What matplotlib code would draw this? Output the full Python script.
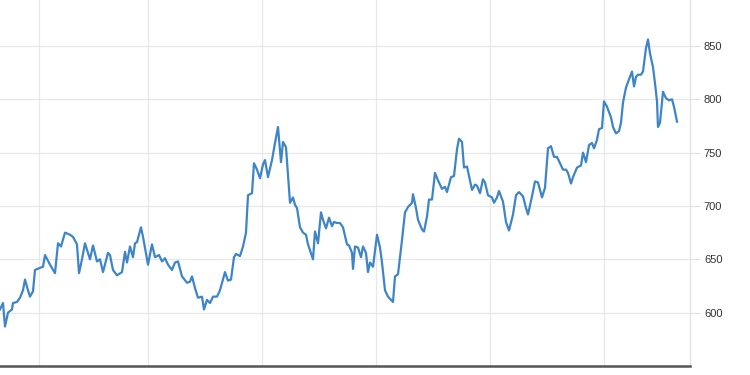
import matplotlib
matplotlib.use("Agg")
import matplotlib.pyplot as plt

# trading-day index and closing price
day = [0, 3, 5, 8, 12, 13, 17, 20, 23, 25, 28, 30, 33, 35, 40, 43, 45, 50, 55, 58,
       61, 65, 70, 73, 77, 79, 82, 85, 90, 93, 97, 100, 103, 108, 110, 113, 117, 122, 125, 127,
       130, 133, 135, 137, 141, 143, 148, 152, 155, 159, 162, 165, 168, 172, 175, 178, 182, 187, 190, 192,
       195, 198, 202, 204, 207, 210, 213, 217, 220, 225, 228, 231, 234, 236, 240, 243, 246, 248, 252, 254,
       257, 260, 263, 265, 268, 272, 275, 278, 281, 283, 286, 290, 293, 295, 297, 300, 303, 306, 308, 313,
       315, 318, 321, 323, 326, 329, 332, 334, 337, 340, 343, 347, 349, 352, 353, 355, 358, 361, 363, 366,
       368, 370, 373, 377, 380, 382, 385, 388, 393, 395, 398, 402, 405, 408, 412, 413, 416, 418, 422, 424,
       427, 429, 432, 435, 438, 442, 445, 447, 451, 454, 457, 459, 462, 464, 467, 470, 472, 475, 477, 480,
       483, 485, 488, 492, 494, 497, 499, 503, 506, 509, 513, 516, 519, 523, 526, 528, 532, 535, 538, 542,
       545, 548, 551, 554, 557, 560, 563, 566, 568, 571, 573, 577, 581, 583, 586, 589, 592, 594, 597, 599,
       602, 604, 607, 611, 613, 616, 619, 621, 623, 626, 630, 632, 634, 636, 638, 641, 643, 646, 648, 650,
       653, 655, 657, 658, 660, 663, 666, 669, 672, 674, 677]
price = [603, 609, 587, 600, 603, 609, 610, 614, 621, 631, 621, 615, 620, 640, 642, 643, 654, 645, 637, 665,
         662, 675, 673, 671, 664, 637, 650, 665, 650, 663, 648, 650, 638, 656, 654, 640, 635, 638, 657, 647,
         662, 652, 665, 666, 680, 671, 645, 664, 652, 654, 648, 651, 645, 640, 647, 648, 634, 628, 629, 634,
         623, 614, 615, 603, 612, 609, 615, 615, 621, 638, 630, 631, 652, 655, 653, 662, 675, 710, 712, 740,
         734, 726, 739, 743, 727, 743, 759, 774, 741, 760, 755, 703, 708, 701, 698, 680, 675, 673, 664, 650,
         676, 665, 694, 687, 679, 689, 681, 685, 684, 684, 680, 664, 663, 656, 641, 662, 661, 652, 662, 656,
         638, 647, 643, 673, 661, 647, 621, 615, 610, 634, 636, 668, 694, 699, 703, 711, 698, 687, 678, 676,
         690, 706, 706, 731, 724, 716, 718, 713, 727, 728, 753, 763, 760, 736, 737, 724, 715, 720, 719, 712,
         725, 722, 710, 708, 703, 708, 714, 704, 685, 677, 692, 710, 713, 709, 698, 692, 709, 723, 722, 708,
         717, 754, 756, 746, 746, 740, 734, 734, 731, 721, 727, 736, 738, 750, 741, 757, 759, 754, 762, 772,
         773, 798, 793, 783, 774, 768, 770, 778, 797, 811, 821, 826, 812, 821, 823, 823, 826, 848, 856, 843,
         830, 815, 798, 774, 778, 807, 801, 799, 800, 793, 779]

yticks = [600, 650, 700, 750, 800, 850]
xgrid = [39, 148, 262, 376, 490, 604]

fig = plt.figure(figsize=(7.5, 3.75), dpi=100)
ax = fig.add_axes([0, 9 / 375, 690 / 750, 366 / 375])

ax.plot(day, price, color="#3d85c6", linewidth=1.6, solid_joinstyle="round")

ax.set_xlim(0, 690)
ax.set_ylim(550, 893)
ax.set_xticks(xgrid)
ax.set_yticks(yticks)
ax.grid(True, color="#e8e8e8", linewidth=0.9)
ax.set_axisbelow(True)

ax.yaxis.tick_right()
ax.tick_params(axis="y", length=7, color="#e0e0e0", pad=3, labelsize=8,
               labelcolor="#333333")
ax.tick_params(axis="x", length=0, labelbottom=False)
for lab in ax.get_yticklabels():
    lab.set_family(["Liberation Sans", "DejaVu Sans"])

ax.spines["top"].set_visible(False)
ax.spines["left"].set_visible(False)
ax.spines["right"].set_color("#e0e0e0")
ax.spines["right"].set_linewidth(0.9)
ax.spines["bottom"].set_color("#555555")
ax.spines["bottom"].set_linewidth(1.8)

fig.savefig("out.png", dpi=100)
